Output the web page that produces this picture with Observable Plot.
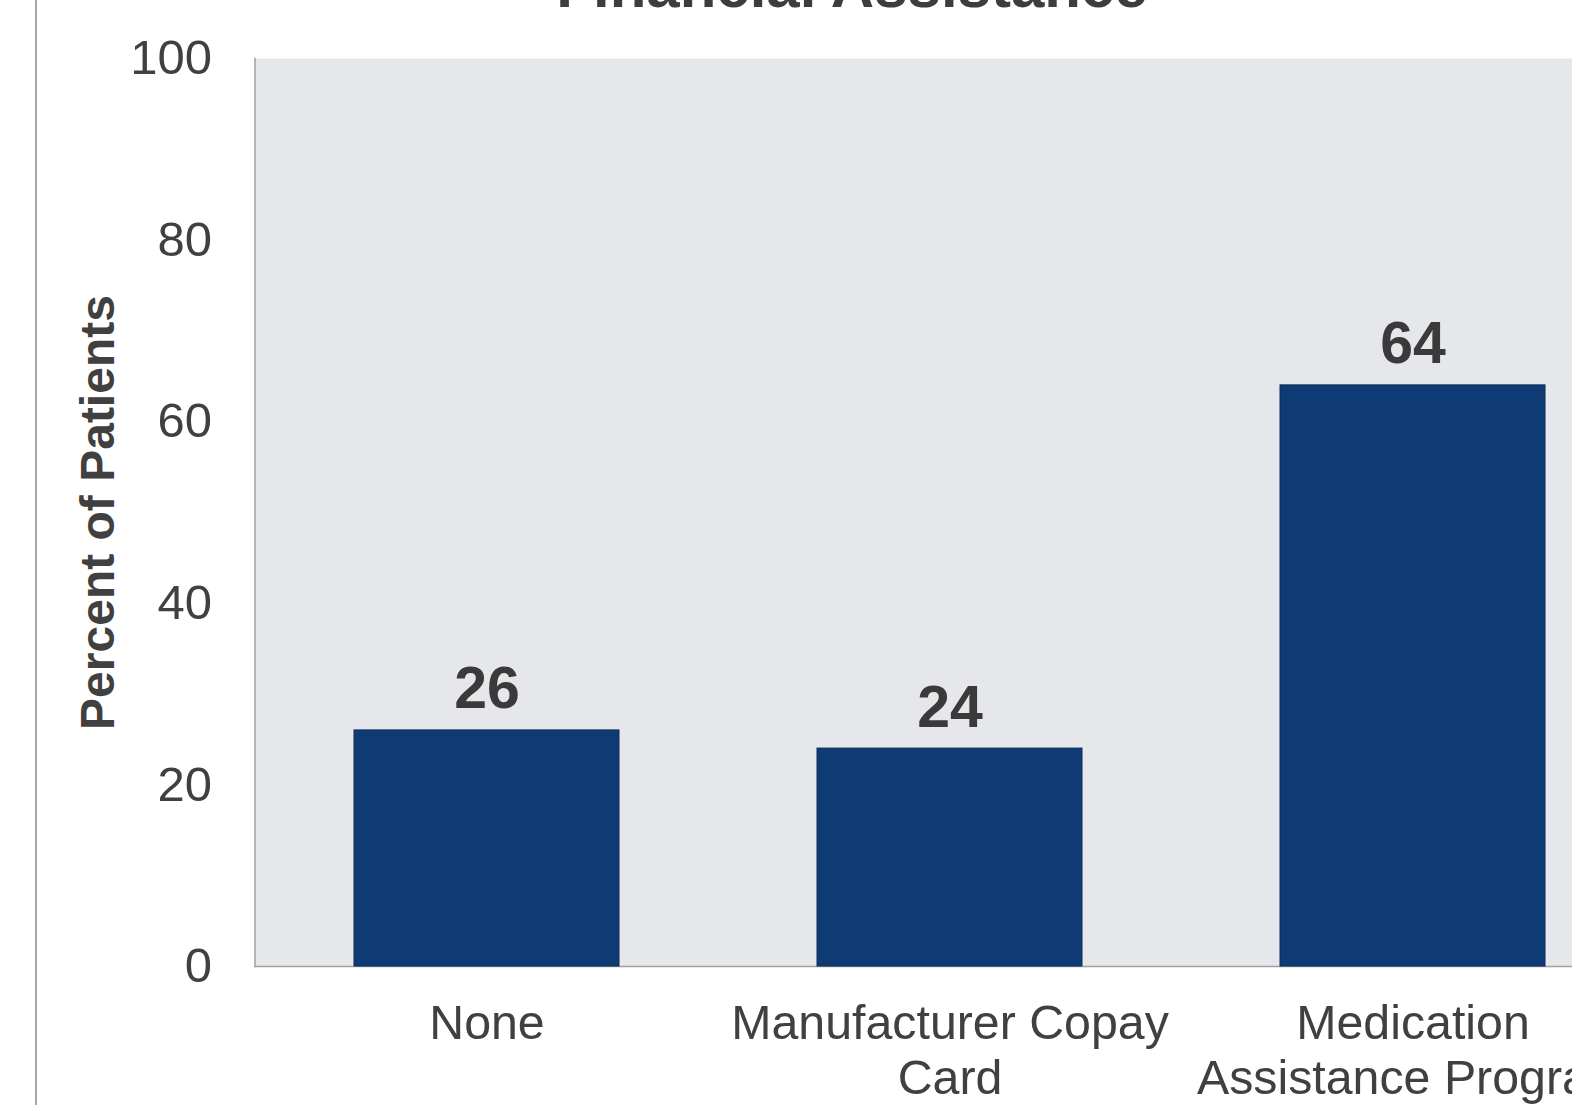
<!DOCTYPE html>
<html>
<head>
<meta charset="utf-8">
<script src="https://cdn.jsdelivr.net/npm/d3@7"></script>
<script src="https://cdn.jsdelivr.net/npm/@observablehq/plot@0.6"></script>
<style>
  html, body { margin: 0; padding: 0; background: #fff; overflow: hidden; width: 1572px; height: 1105px; }
  #wrap { position: relative; width: 1572px; height: 1105px; overflow: hidden; font-family: "Liberation Sans", Arial, sans-serif; }
  #title { position: absolute; left: 0; width: 1704px; top: -43px; line-height: 60px; text-align: center; font-size: 60px; font-weight: bold; color: #3d3d3d; white-space: nowrap; }
  #border { position: absolute; left: 35px; top: 0; width: 1.5px; height: 1105px; background: #a6a6a6; }
  #chart { position: absolute; left: 0; top: 0; width: 1700px; height: 1105px; }
  #chart svg { max-width: none !important; }
</style>
</head>
<body>
<div id="wrap">
  <div id="title">Financial Assistance</div>
  <div id="border"></div>
  <div id="chart"></div>
</div>
<script>
const categories = ["None", "Manufacturer Copay\nCard", "Medication\nAssistance Program"];
const values = [26, 24, 64];
const yTicks = [0, 20, 40, 60, 80, 100];
const yLabel = "Percent of Patients";

const data = categories.map((c, i) => ({cat: c, val: values[i]}));

const textColor = "#404040";
const chart = Plot.plot({
  width: 1700,
  height: 1105,
  marginLeft: 254.5,
  marginRight: 54.5,
  marginTop: 58,
  marginBottom: 139,
  style: {fontFamily: "'Liberation Sans', Arial, sans-serif", color: textColor, background: "transparent", overflow: "visible", maxWidth: "none"},
  x: {domain: categories, paddingInner: 0.427, paddingOuter: 0.2135, axis: null},
  y: {domain: [0, 100], axis: null},
  marks: [
    Plot.frame({fill: "#e6e7eb", stroke: null}),
    Plot.frame({anchor: "left", stroke: "#a0a0a0", strokeWidth: 1.5}),
    Plot.ruleY([0], {stroke: "#a0a0a0", strokeWidth: 1.5}),
    Plot.barY(data, {x: "cat", y: "val", fill: "#0e3b73", stroke: "#0a2c58", strokeWidth: 1}),
    Plot.text(data, {x: "cat", y: "val", text: d => String(d.val), lineAnchor: "bottom", dy: -22, fontSize: 59, fontWeight: "bold", fill: "#3a3a3a"}),
    Plot.axisY({ticks: yTicks, tickSize: 0, tickPadding: 43, fontSize: 49, fill: textColor, label: null}),
    Plot.axisX({tickSize: 0, tickPadding: 34, fontSize: 48.3, lineHeight: 1.13, fill: textColor, label: null}),
    Plot.text([yLabel], {frameAnchor: "left", text: d => d, rotate: -90, dx: -156, fontSize: 48, fontWeight: "bold", fill: textColor, textAnchor: "middle"})
  ]
});
document.getElementById("chart").appendChild(chart);
</script>
</body>
</html>
